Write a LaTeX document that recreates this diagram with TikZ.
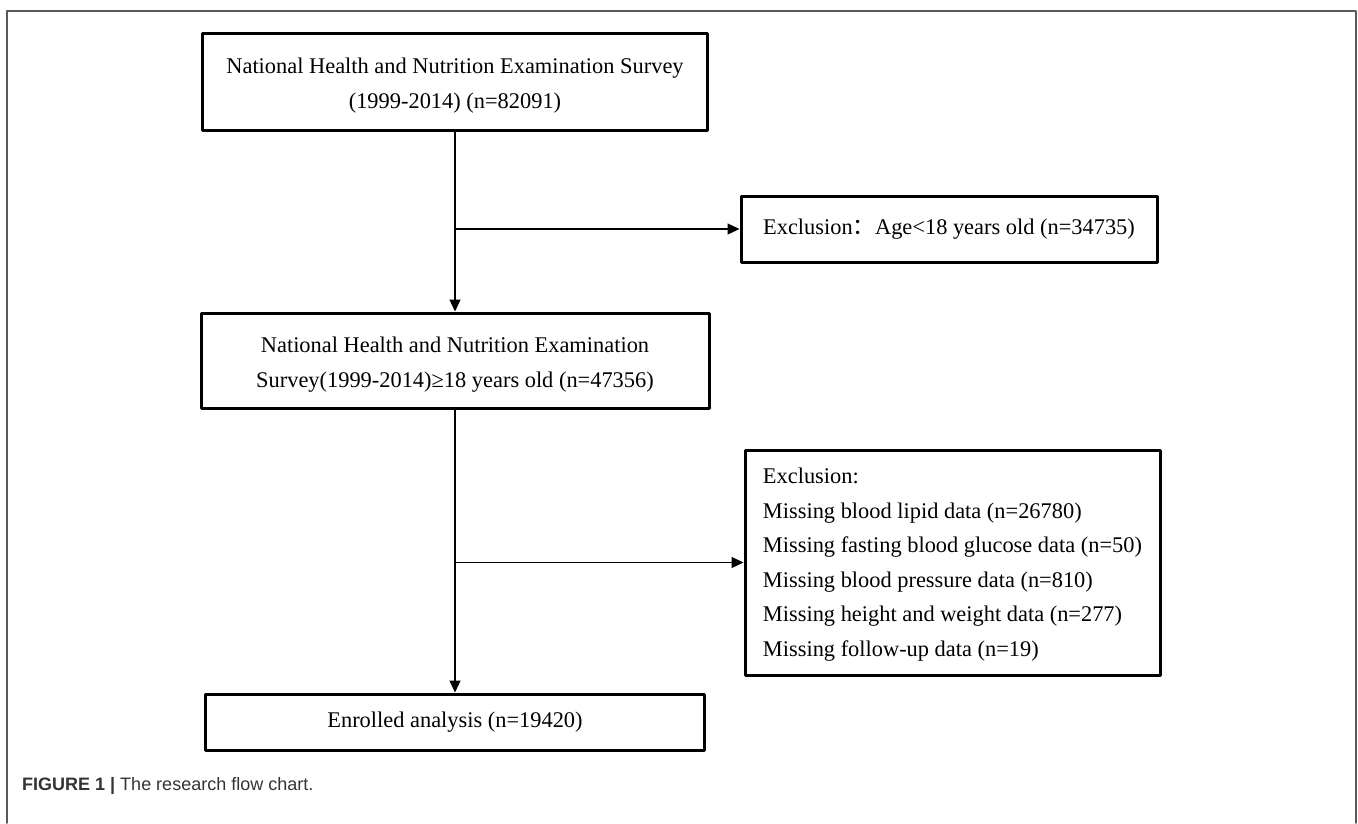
\documentclass[tikz,border=0pt]{standalone}
\usepackage{fontspec}
\setmainfont{Liberation Serif}
\setsansfont{Liberation Sans}
\newfontfamily\cjk{Noto Sans CJK SC}
\usetikzlibrary{arrows.meta}

\begin{document}
\begin{tikzpicture}[line cap=round,line join=round,>={Triangle[length=12pt,width=11pt]},x=1pt,y=-1pt,
	flowbox/.style={draw=black,line width=3pt,line cap=rect,fill=white,inner sep=0pt,align=center,font=\fontsize{22.4}{34.5}\selectfont},
	flowline/.style={line width=1.3pt,->}]%流程图
			\useasboundingbox (0,0) rectangle (1358,823);
			\draw [line width=1.8pt,color=black!65] (7,823)-- (7,11)-- (1356,11)-- (1356,823);
			\node[flowbox,minimum width=505pt,minimum height=97pt] (survey) at (455,81.5) {\rule{0pt}{24pt}National Health and Nutrition Examination Survey\\(1999-2014) (n=82091)};
			\node[flowbox,minimum width=416pt,minimum height=66pt] (exclA) at (949,229) {Exclusion{\cjk ：}Age<18 years old (n=34735)};
			\node[flowbox,minimum width=508pt,minimum height=95pt] (adults) at (455,360.5) {\rule{0pt}{24pt}National Health and Nutrition Examination\\Survey(1999-2014)≥18 years old (n=47356)};
			\node[flowbox,minimum width=415pt,minimum height=225pt,align=left] (exclB) at (952.5,562.5) {\rule{0pt}{20pt}Exclusion:\\Missing blood lipid data (n=26780)\\Missing fasting blood glucose data (n=50)\\Missing blood pressure data (n=810)\\Missing height and weight data (n=277)\\Missing follow-up data (n=19)};
			\node[flowbox,minimum width=499pt,minimum height=56pt] (enrolled) at (455,722) {Enrolled analysis (n=19420)};
			\coordinate (branchA) at (455,229);
			\coordinate (branchB) at (455,562.5);
			\draw [flowline] (survey.south)-- (adults.north);
			\draw [flowline] (branchA)-- (exclA.west);
			\draw [flowline] (adults.south)-- (enrolled.north);
			\draw [flowline] (branchB)-- (exclB.west);
			\node[anchor=base west,inner sep=0pt,font=\sffamily\fontsize{18}{20}\selectfont,color=black!80] (caption) at (22,790) {\textbf{FIGURE 1 |} The research flow chart.};
		\end{tikzpicture}
\end{document}
